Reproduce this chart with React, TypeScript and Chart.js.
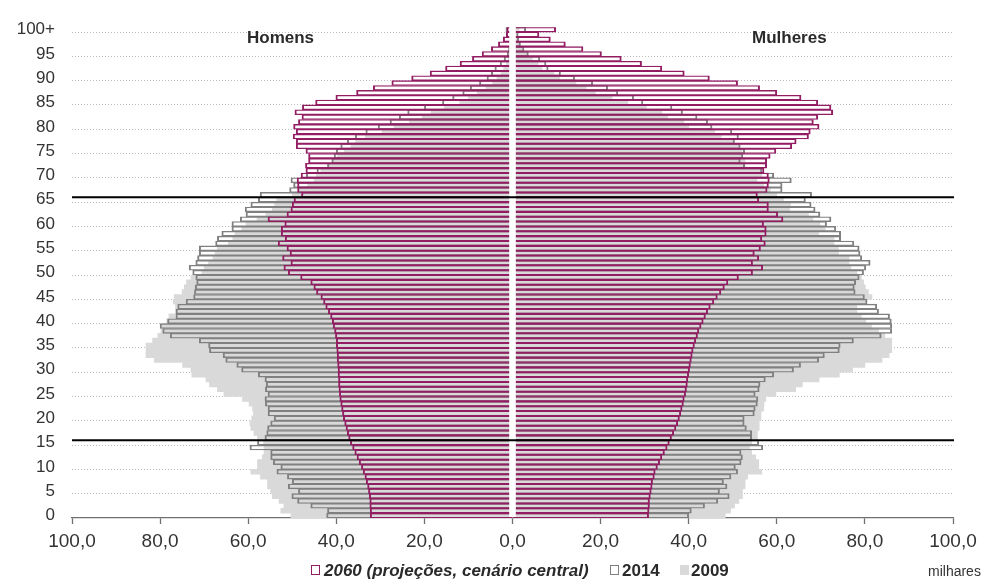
import React, { useEffect, useRef } from 'react';
import { Chart, registerables } from 'chart.js';

Chart.register(...registerables);

const FONT = "'Liberation Sans', Arial, Helvetica, sans-serif";
const PURPLE = '#931d63';
const GREY_LINE = '#808080';
const GREY_FILL = '#d9d9d9';
const TEXT = '#2a2a2a';

// Age categories 0 .. 99 and "100+"
const AGE_LABELS = [
  '0','1','2','3','4','5','6','7','8','9',
  '10','11','12','13','14','15','16','17','18','19',
  '20','21','22','23','24','25','26','27','28','29',
  '30','31','32','33','34','35','36','37','38','39',
  '40','41','42','43','44','45','46','47','48','49',
  '50','51','52','53','54','55','56','57','58','59',
  '60','61','62','63','64','65','66','67','68','69',
  '70','71','72','73','74','75','76','77','78','79',
  '80','81','82','83','84','85','86','87','88','89',
  '90','91','92','93','94','95','96','97','98','99',
  '100+'
];

// Age-group separators (between ages 15|16 and 65|66)
const SEPARATORS = [15.5, 65.5];

// x axis (thousands)
const X_MIN = -100;
const X_MAX = 100;
const X_STEP = 20;

// Men (Homens), thousands, index = age
const MEN_2009 = [
  50.3, 52.6, 51.9, 53.0, 54.5, 54.9, 55.6, 55.6, 57.2, 59.4,
  57.9, 57.9, 56.8, 56.4, 56.4, 56.5, 57.9, 58.7, 59.4, 59.6,
  59.2, 58.8, 59.0, 59.8, 61.3, 65.5, 67.0, 68.8, 69.6, 72.8,
  73.0, 74.9, 81.3, 83.2, 83.2, 83.2, 81.7, 80.5, 79.8, 79.5,
  78.5, 78.0, 76.5, 76.5, 77.0, 76.8, 75.0, 74.5, 74.0, 73.0,
  70.5, 70.0, 69.0, 68.0, 67.5, 67.0, 64.5, 63.5, 63.0, 61.5,
  60.5, 58.0, 56.0, 54.5, 54.0, 53.5, 50.0, 48.5, 46.5, 45.0,
  44.5, 43.5, 42.0, 41.0, 39.7, 38.2, 36.7, 35.6, 33.4, 29.6,
  26.9, 23.4, 20.5, 18.5, 15.5, 12.0, 10.0, 8.0, 6.0, 4.5,
  3.5, 2.6, 2.0, 1.4, 1.0, 0.7, 0.5, 0.3, 0.2, 0.15,
  0.3
];
const MEN_2014 = [
  42.2, 42.0, 45.8, 48.8, 50.1, 48.6, 50.9, 50.0, 51.1, 53.5,
  52.6, 54.3, 54.9, 54.9, 59.6, 57.9, 56.2, 55.8, 55.6, 54.9,
  54.1, 55.5, 55.5, 56.1, 56.2, 55.5, 56.1, 55.9, 56.2, 57.7,
  61.5, 62.6, 65.1, 65.7, 68.8, 69.0, 71.1, 77.7, 79.4, 80.0,
  78.3, 76.4, 76.4, 76.0, 74.1, 72.4, 72.2, 72.0, 71.7, 71.9,
  72.6, 73.4, 71.9, 71.5, 71.1, 71.1, 67.4, 67.0, 66.0, 63.7,
  63.7, 61.8, 60.5, 60.7, 59.4, 57.7, 57.3, 50.6, 49.7, 50.3,
  46.8, 44.4, 42.0, 41.0, 40.5, 40.0, 39.0, 37.5, 35.7, 33.3,
  30.5, 27.8, 25.7, 23.8, 20.0, 15.9, 13.6, 11.3, 9.6, 7.5,
  5.8, 4.8, 4.0, 2.8, 1.9, 1.2, 0.9, 0.6, 0.4, 0.3,
  1.5
];
const MEN_2060 = [
  32.3, 32.3, 32.4, 32.4, 32.5, 32.7, 32.9, 33.2, 33.5, 33.9,
  34.3, 34.8, 35.3, 35.8, 36.3, 36.8, 37.2, 37.5, 37.8, 38.1,
  38.4, 38.6, 38.8, 39.0, 39.2, 39.3, 39.4, 39.5, 39.5, 39.6,
  39.6, 39.7, 39.8, 39.8, 39.9, 40.0, 40.0, 40.2, 40.4, 40.7,
  40.9, 41.3, 41.8, 42.4, 42.9, 43.5, 44.5, 45.1, 45.8, 48.1,
  50.9, 51.9, 50.3, 52.2, 50.5, 51.2, 53.2, 51.6, 52.5, 52.5,
  51.7, 55.5, 51.2, 50.3, 50.0, 49.6, 47.9, 48.8, 48.8, 48.9,
  48.0, 46.9, 47.0, 46.3, 46.3, 46.9, 49.1, 49.1, 49.8, 49.1,
  49.7, 48.6, 47.8, 49.4, 47.7, 44.7, 40.1, 35.4, 31.6, 27.4,
  22.9, 18.7, 15.2, 11.9, 9.1, 6.9, 4.8, 3.2, 2.1, 1.4,
  1.3
];

// Women (Mulheres), thousands, index = age
const WOMEN_2009 = [
  48.3, 49.5, 50.4, 51.4, 52.2, 52.2, 52.8, 52.8, 53.4, 56.6,
  55.9, 55.9, 55.2, 54.3, 53.8, 54.3, 55.6, 55.6, 56.0, 56.0,
  56.4, 56.4, 57.0, 57.1, 57.5, 59.8, 64.3, 65.8, 69.6, 74.2,
  77.2, 80.0, 83.9, 85.5, 86.1, 86.1, 86.1, 84.5, 83.1, 81.5,
  80.2, 79.2, 78.2, 78.2, 80.3, 81.6, 80.8, 80.1, 79.7, 79.2,
  78.2, 76.8, 76.4, 76.4, 74.0, 74.0, 73.0, 73.0, 69.5, 71.0,
  69.8, 68.2, 67.2, 62.9, 63.1, 61.5, 60.0, 58.5, 57.0, 55.5,
  56.6, 56.2, 52.8, 52.8, 52.2, 52.1, 51.3, 50.2, 47.4, 45.9,
  40.0, 38.9, 35.2, 33.9, 30.4, 26.2, 22.6, 18.8, 16.7, 14.4,
  10.7, 9.4, 6.7, 5.8, 4.5, 3.5, 2.2, 1.8, 1.2, 0.9,
  1.5
];
const WOMEN_2014 = [
  40.0, 40.6, 43.6, 46.6, 49.2, 47.0, 48.7, 47.9, 49.6, 51.1,
  50.6, 51.9, 52.2, 51.9, 56.8, 55.9, 54.3, 54.3, 53.1, 52.6,
  52.6, 54.9, 55.1, 55.6, 55.7, 55.1, 56.0, 56.2, 57.4, 59.3,
  63.8, 65.4, 69.5, 70.8, 74.2, 74.4, 77.4, 83.7, 86.1, 86.1,
  86.0, 85.6, 83.1, 82.7, 80.5, 79.9, 77.8, 77.6, 77.9, 78.7,
  79.7, 80.2, 81.2, 79.3, 78.9, 78.7, 77.5, 74.5, 74.5, 73.4,
  71.3, 72.3, 69.8, 68.7, 67.8, 66.5, 67.9, 61.2, 61.2, 63.3,
  59.3, 56.6, 52.7, 51.7, 52.3, 52.7, 51.7, 50.4, 51.3, 49.8,
  45.3, 44.3, 41.9, 38.6, 36.2, 29.6, 27.5, 23.9, 21.6, 18.2,
  14.1, 10.9, 8.1, 7.6, 6.2, 3.6, 2.6, 1.8, 1.4, 1.3,
  3.0
];
const WOMEN_2060 = [
  30.9, 31.0, 31.1, 31.1, 31.3, 31.5, 31.7, 31.8, 32.2, 32.4,
  32.9, 33.4, 33.9, 34.5, 35.1, 35.6, 36.1, 36.6, 37.1, 37.5,
  37.9, 38.2, 38.5, 38.8, 39.0, 39.3, 39.5, 39.7, 39.8, 40.0,
  40.2, 40.4, 40.6, 40.8, 41.0, 41.3, 41.6, 42.0, 42.3, 42.8,
  43.3, 43.8, 44.3, 44.9, 45.7, 46.5, 47.3, 48.1, 48.9, 51.3,
  54.5, 56.8, 54.5, 55.9, 54.9, 56.3, 57.4, 56.6, 57.6, 57.6,
  57.0, 61.4, 60.2, 58.1, 58.1, 55.9, 55.6, 57.8, 58.1, 58.3,
  58.1, 57.1, 57.7, 57.7, 58.5, 59.8, 63.4, 64.4, 67.2, 67.6,
  69.6, 68.3, 69.3, 72.7, 72.3, 69.3, 65.5, 60.0, 56.1, 51.1,
  44.7, 39.0, 33.9, 29.3, 24.7, 20.2, 16.0, 12.0, 8.6, 6.0,
  9.8
];

const neg = (arr: number[]) => arr.map((v) => -v);

const OUTLINE_BORDER = { top: 0.7, bottom: 0.7, left: 1.3, right: 1.3 };

function outlineSet(label: string, data: number[], color: string, order: number) {
  return {
    label,
    data,
    grouped: false,
    categoryPercentage: 1,
    barPercentage: 1,
    backgroundColor: 'rgba(0,0,0,0)',
    borderColor: color,
    borderWidth: OUTLINE_BORDER,
    borderSkipped: false,
    order,
  };
}

function fillSet(label: string, data: number[], order: number) {
  return {
    label,
    data,
    grouped: false,
    categoryPercentage: 1,
    barPercentage: 1,
    backgroundColor: GREY_FILL,
    borderWidth: 0,
    order,
  };
}

const overlayPlugin = {
  id: 'pyramidOverlay',
  afterDatasetsDraw(chart: any) {
    const { ctx, chartArea, scales } = chart;
    const x = scales.x;
    const y = scales.y;
    const cx = x.getPixelForValue(0);
    ctx.save();
    // white central gap
    ctx.fillStyle = '#ffffff';
    ctx.fillRect(cx - 3.3, chartArea.top - 1, 6.6, chartArea.bottom - chartArea.top);
    // separators
    ctx.strokeStyle = '#000000';
    ctx.lineWidth = 2;
    for (const s of SEPARATORS) {
      const yy = (y.getPixelForValue(Math.floor(s)) + y.getPixelForValue(Math.ceil(s))) / 2;
      ctx.beginPath();
      ctx.moveTo(chartArea.left, yy);
      ctx.lineTo(chartArea.right + 1, yy);
      ctx.stroke();
    }
    ctx.restore();
  },
};

export default function App() {
  const ref = useRef<HTMLCanvasElement>(null);

  useEffect(() => {
    document.body.style.margin = '0';
    const canvas = ref.current;
    if (!canvas) return;
    const chart = new Chart(canvas, {
      type: 'bar',
      data: {
        labels: AGE_LABELS,
        datasets: [
          outlineSet('2060 Homens', neg(MEN_2060), PURPLE, 0),
          outlineSet('2060 Mulheres', WOMEN_2060, PURPLE, 0),
          outlineSet('2014 Homens', neg(MEN_2014), GREY_LINE, 1),
          outlineSet('2014 Mulheres', WOMEN_2014, GREY_LINE, 1),
          fillSet('2009 Homens', neg(MEN_2009), 2),
          fillSet('2009 Mulheres', WOMEN_2009, 2),
        ] as any,
      },
      options: {
        indexAxis: 'y',
        responsive: false,
        animation: false,
        events: [],
        layout: { padding: { top: 23, right: 40, left: 0, bottom: 0 } },
        plugins: {
          legend: { display: false },
          tooltip: { enabled: false },
          title: { display: false },
        },
        scales: {
          y: {
            type: 'category',
            reverse: true,
            position: 'left',
            offset: true,
            afterFit: (s: any) => {
              s.width = 72;
            },
            ticks: {
              autoSkip: false,
              padding: 17,
              color: '#333333',
              font: { family: FONT, size: 17 },
              callback: (_v: any, i: number) => (i % 5 === 0 ? AGE_LABELS[i] : ''),
            },
            grid: {
              offset: true,
              drawTicks: false,
              lineWidth: 1,
              color: (c: any) =>
                typeof c.index === 'number' && c.index > 0 && c.index % 5 === 0
                  ? '#bdbdbd'
                  : 'rgba(0,0,0,0)',
            },
            border: { display: false, dash: [1, 2] },
          },
          x: {
            type: 'linear',
            position: 'bottom',
            min: X_MIN,
            max: X_MAX,
            afterFit: (s: any) => {
              s.height = 65;
            },
            ticks: {
              stepSize: X_STEP,
              padding: 6,
              color: '#333333',
              font: { family: FONT, size: 19 },
              callback: (v: any) => Math.abs(Number(v)).toFixed(1).replace('.', ','),
            },
            grid: {
              drawOnChartArea: false,
              drawTicks: true,
              tickLength: 6,
              tickWidth: 1.3,
              tickColor: '#707070',
              color: '#707070',
            },
            border: { display: true, color: '#707070', width: 1.3 },
          },
        },
      } as any,
      plugins: [overlayPlugin],
    });
    return () => chart.destroy();
  }, []);

  const txt: React.CSSProperties = {
    position: 'absolute',
    fontFamily: FONT,
    color: TEXT,
    whiteSpace: 'nowrap',
  };

  return (
    <div
      style={{
        position: 'fixed',
        left: 0,
        top: 0,
        width: 993,
        height: 583,
        background: '#ffffff',
        overflow: 'hidden',
      }}
    >
      <canvas
        ref={ref}
        width={993}
        height={583}
        style={{ position: 'absolute', left: 0, top: 0, width: 993, height: 583 }}
      />
      <div style={{ ...txt, left: 247, top: 29, fontSize: 17, lineHeight: '17px', fontWeight: 'bold' }}>
        Homens
      </div>
      <div style={{ ...txt, left: 752, top: 29, fontSize: 17, lineHeight: '17px', fontWeight: 'bold' }}>
        Mulheres
      </div>

      <div
        style={{
          position: 'absolute',
          left: 311,
          top: 565,
          width: 7,
          height: 8,
          border: `1px solid ${PURPLE}`,
          background: '#fff',
        }}
      />
      <div
        style={{
          ...txt,
          left: 324,
          top: 562,
          fontSize: 17,
          lineHeight: '17px',
          fontWeight: 'bold',
          fontStyle: 'italic',
        }}
      >
        2060 (projeções, cenário central)
      </div>
      <div
        style={{
          position: 'absolute',
          left: 610,
          top: 565,
          width: 7,
          height: 8,
          border: `1px solid ${GREY_LINE}`,
          background: '#fff',
        }}
      />
      <div style={{ ...txt, left: 622, top: 562, fontSize: 17, lineHeight: '17px', fontWeight: 'bold' }}>
        2014
      </div>
      <div
        style={{
          position: 'absolute',
          left: 680,
          top: 565,
          width: 9,
          height: 10,
          background: GREY_FILL,
        }}
      />
      <div style={{ ...txt, left: 691, top: 562, fontSize: 17, lineHeight: '17px', fontWeight: 'bold' }}>
        2009
      </div>
      <div style={{ ...txt, left: 928, top: 564, fontSize: 14, lineHeight: '14px', color: '#333' }}>
        milhares
      </div>
    </div>
  );
}
